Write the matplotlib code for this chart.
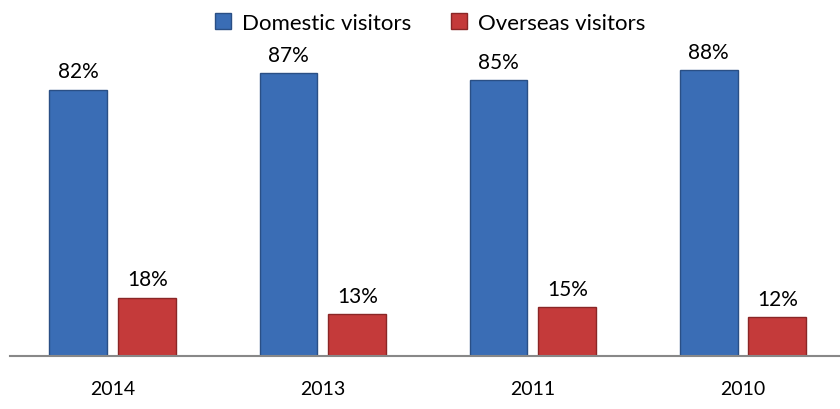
import matplotlib.pyplot as plt
import numpy as np
from matplotlib.patches import Patch

years = ['2014', '2013', '2011', '2010']
domestic = [82, 87, 85, 88]
overseas = [18, 13, 15, 12]

plt.rcParams['font.family'] = ['Lato', 'DejaVu Sans']

fig = plt.figure(figsize=(8.4, 4.1), dpi=100)
ax = fig.add_axes([10 / 840, 53 / 410, 830 / 840, 325 / 410])

x = np.arange(len(years))
w = 0.276
blue = '#3a6db5'
red = '#c43a3a'

ax.bar(x - 0.164, domestic, w, color=blue, edgecolor='#2a4f85', linewidth=1)
ax.bar(x + 0.164, overseas, w, color=red, edgecolor='#8a2626', linewidth=1)

for i in range(len(years)):
    ax.text(x[i] - 0.164, domestic[i] + 2.5, f'{domestic[i]}%', ha='center', va='bottom', fontsize=15)
    ax.text(x[i] + 0.164, overseas[i] + 2.5, f'{overseas[i]}%', ha='center', va='bottom', fontsize=15)

ax.set_xlim(-0.49, 3.462)
ax.set_ylim(0, 100)
ax.set_xticks(x)
ax.set_xticklabels(years, fontsize=14)
ax.tick_params(axis='x', length=0, pad=17)
ax.set_yticks([])
for s in ['top', 'right', 'left']:
    ax.spines[s].set_visible(False)
ax.spines['bottom'].set_color('#888888')
ax.spines['bottom'].set_linewidth(1.5)

handles = [Patch(facecolor=blue, edgecolor='#2a4f85', label='Domestic visitors'),
           Patch(facecolor=red, edgecolor='#8a2626', label='Overseas visitors')]
fig.legend(handles=handles, loc='upper center', bbox_to_anchor=(0.512, 1.015), ncol=2,
           frameon=False, fontsize=16, handlelength=0.7, handleheight=0.7,
           handletextpad=0.5, columnspacing=1.8)

fig.savefig('out.png', dpi=100)
